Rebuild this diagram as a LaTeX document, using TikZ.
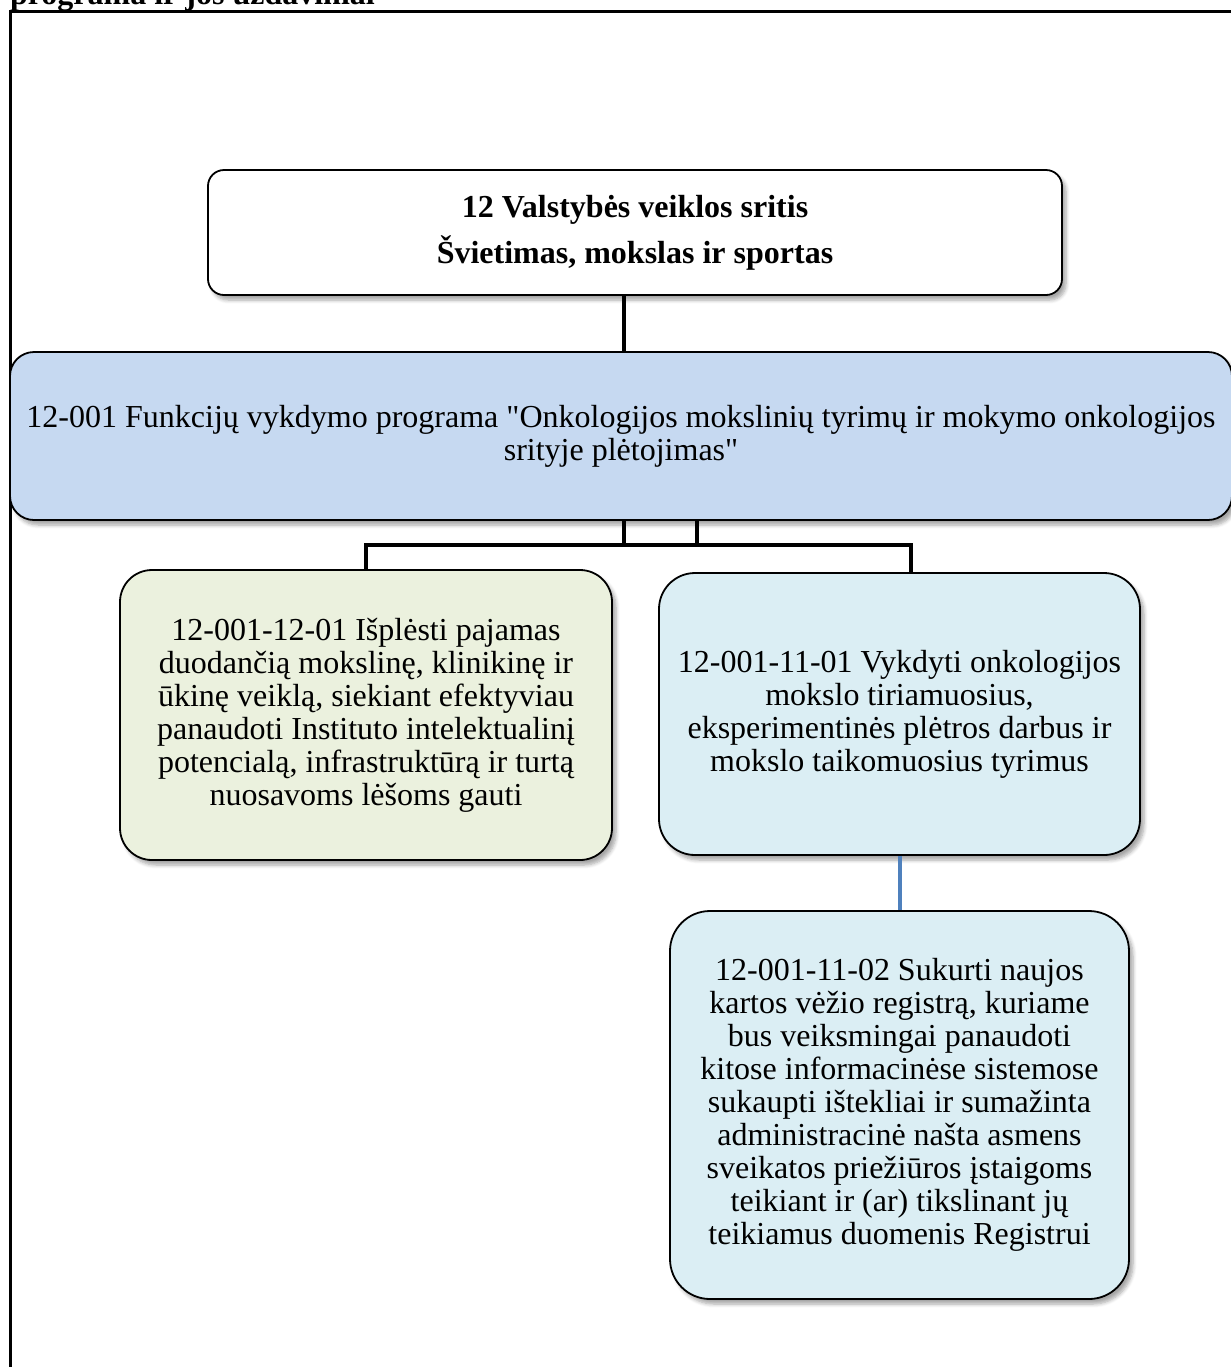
\documentclass[tikz,border=0pt]{standalone}
\usepackage{fontspec}
\setmainfont{Liberation Serif}
\usetikzlibrary{shadows.blur}
\definecolor{progblue}{HTML}{C6D9F1}
\definecolor{taskgreen}{HTML}{EBF1DE}
\definecolor{taskcyan}{HTML}{DBEEF4}
\definecolor{linkblue}{HTML}{4F81BD}
\tikzset{
  goalbox/.style={
    draw=black, line width=0.9pt, align=center, inner sep=0pt,
    font=\fontsize{16}{16.5}\selectfont,
    blur shadow={shadow xshift=2pt, shadow yshift=-2.5pt, shadow blur steps=6, shadow opacity=35}
  },
  link/.style={line width=2pt, line join=miter},
  sublink/.style={line width=2pt, draw=linkblue}
}

\begin{document}
\begin{tikzpicture}[x=0.5pt, y=-0.5pt]
\useasboundingbox (0,0) rectangle (1231,1367);

\draw [line width=1.5pt] (10,1367) -- (10,11) -- (1231,11);
\node [anchor=base west, font=\fontsize{16}{16.5}\selectfont\bfseries] (heading) at (3,4) {programa ir jos uždaviniai};

\node [goalbox, fill=white, rounded corners=8pt, minimum width=427pt, minimum height=62.5pt,
  font=\fontsize{16}{23}\selectfont\bfseries] (area) at (635,232.5)
  {12 Valstybės veiklos sritis\\Švietimas, mokslas ir sportas};
\node [goalbox, fill=progblue, rounded corners=12pt, minimum width=611pt, minimum height=84pt] (program) at (621,436)
  {12-001 Funkcijų vykdymo programa \textquotedbl Onkologijos mokslinių tyrimų ir mokymo onkologijos\\srityje plėtojimas\textquotedbl};
\node [goalbox, fill=taskgreen, rounded corners=16pt, minimum width=246pt, minimum height=145pt] (task1) at (366,715)
  {12-001-12-01 Išplėsti pajamas\\duodančią mokslinę, klinikinę ir\\ūkinę veiklą, siekiant efektyviau\\panaudoti Instituto intelektualinį\\potencialą, infrastruktūrą ir turtą\\nuosavoms lėšoms gauti};
\node [goalbox, fill=taskcyan, rounded corners=18pt, minimum width=240.5pt, minimum height=141pt] (task2) at (899.5,714)
  {12-001-11-01 Vykdyti onkologijos\\mokslo tiriamuosius,\\eksperimentinės plėtros darbus ir\\mokslo taikomuosius tyrimus};
\node [goalbox, fill=taskcyan, rounded corners=20pt, minimum width=229.5pt, minimum height=194pt] (task3) at (899.5,1105)
  {12-001-11-02 Sukurti naujos\\kartos vėžio registrą, kuriame\\bus veiksmingai panaudoti\\kitose informacinėse sistemose\\sukaupti ištekliai ir sumažinta\\administracinė našta asmens\\sveikatos priežiūros įstaigoms\\teikiant ir (ar) tikslinant jų\\teikiamus duomenis Registrui};

\coordinate (bus) at (911,545);
\draw [link] (area.south -| 624,0) -- (program.north -| 624,0);
\draw [link] (program.south -| 624,0) -- (624,545);
\draw [link] (program.south -| 697,0) -- (697,545);
\draw [link] (task1.north) |- (bus) -- (task2.north -| bus);
\draw [sublink] (task2.south) -- (task3.north);
\end{tikzpicture}
\end{document}
